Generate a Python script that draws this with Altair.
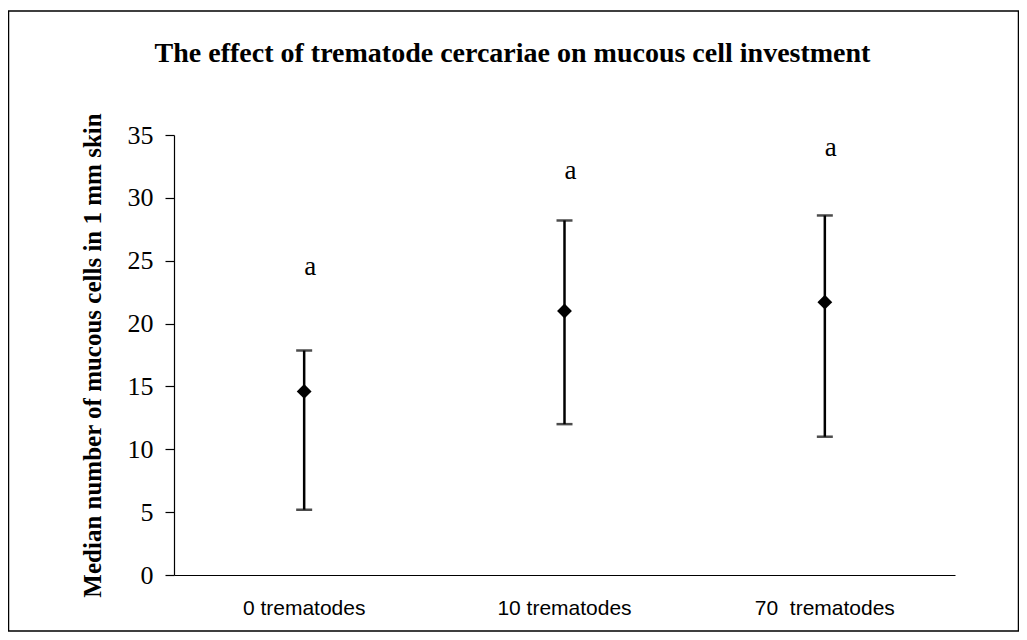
import altair as alt
import pandas as pd

categories = ["0 trematodes", "10 trematodes", "70\u00a0 trematodes"]
median = [14.6, 21.0, 21.7]
upper = [17.85, 28.2, 28.6]
lower = [5.2, 12.0, 11.0]
letter = ["a", "a", "a"]
letter_y = [24.5, 32.1, 34.0]

df = pd.DataFrame({
    "group": categories,
    "median": median,
    "upper": upper,
    "lower": lower,
    "letter": letter,
    "letter_y": letter_y,
})

W, H = 781, 440

xscale = alt.Scale(type="band", paddingInner=0, paddingOuter=0)
xenc = alt.X("group:N", sort=categories, title=None, scale=xscale,
             axis=alt.Axis(ticks=False, grid=False, labelAngle=0, labelFont="Liberation Sans",
                           labelFontSize=21, labelColor="black", labelPadding=22,
                           domainColor="black", domainWidth=1.2))
yscale = alt.Scale(domain=[0, 35])
yaxis = alt.Axis(values=[0, 5, 10, 15, 20, 25, 30, 35], grid=False,
                 labelFont="Liberation Serif", labelFontSize=26, labelColor="black",
                 labelPadding=12, tickSize=9, tickColor="black", domainColor="black",
                 tickWidth=1.2, domainWidth=1.2,
                 title="Median number of mucous cells in 1 mm skin",
                 titleFont="Liberation Serif", titleFontSize=25, titleFontWeight="bold",
                 titleColor="black", titleX=-82, titleY=220, titleAngle=-90,
                 titleAlign="center", titleBaseline="middle")

base = alt.Chart(df)

rules = base.mark_rule(color="black", strokeWidth=2.5).encode(
    x=xenc,
    y=alt.Y("lower:Q", scale=yscale, axis=yaxis),
    y2="upper:Q",
)
cap_hi = base.mark_tick(color="black", size=16, thickness=2.5).encode(
    x=alt.X("group:N", sort=categories), y=alt.Y("upper:Q"))
cap_lo = base.mark_tick(color="black", size=16, thickness=2.5).encode(
    x=alt.X("group:N", sort=categories), y=alt.Y("lower:Q"))
pts = base.mark_point(shape="diamond", filled=True, color="black", size=220, opacity=1).encode(
    x=alt.X("group:N", sort=categories), y=alt.Y("median:Q"))
letters = base.mark_text(font="Liberation Serif", fontSize=27, color="black",
                         baseline="middle", dx=6).encode(
    x=alt.X("group:N", sort=categories), y=alt.Y("letter_y:Q"), text="letter:N")

border = alt.Chart(pd.DataFrame({"b": [0]})).mark_rect(
    fillOpacity=0, stroke="black", strokeWidth=1.5).encode(
    x=alt.value(-165.5), x2=alt.value(844.5), y=alt.value(-124), y2=alt.value(496))

chart = alt.layer(rules, cap_hi, cap_lo, pts, letters, border).properties(
    width=W, height=H,
    background="white",
    title=alt.Title("The effect of trematode cercariae on mucous cell investment",
                    font="Liberation Serif", fontSize=28, fontWeight="bold",
                    color="black", anchor="middle", dx=-52, offset=-80,
                    baseline="alphabetic"),
    autosize=alt.AutoSizeParams(type="none"),
    padding={"left": 166, "top": 127, "right": 64, "bottom": 57},
).configure_view(stroke="transparent", strokeWidth=0)

chart.save("out.html", embed_options={"renderer": "svg", "actions": False})
